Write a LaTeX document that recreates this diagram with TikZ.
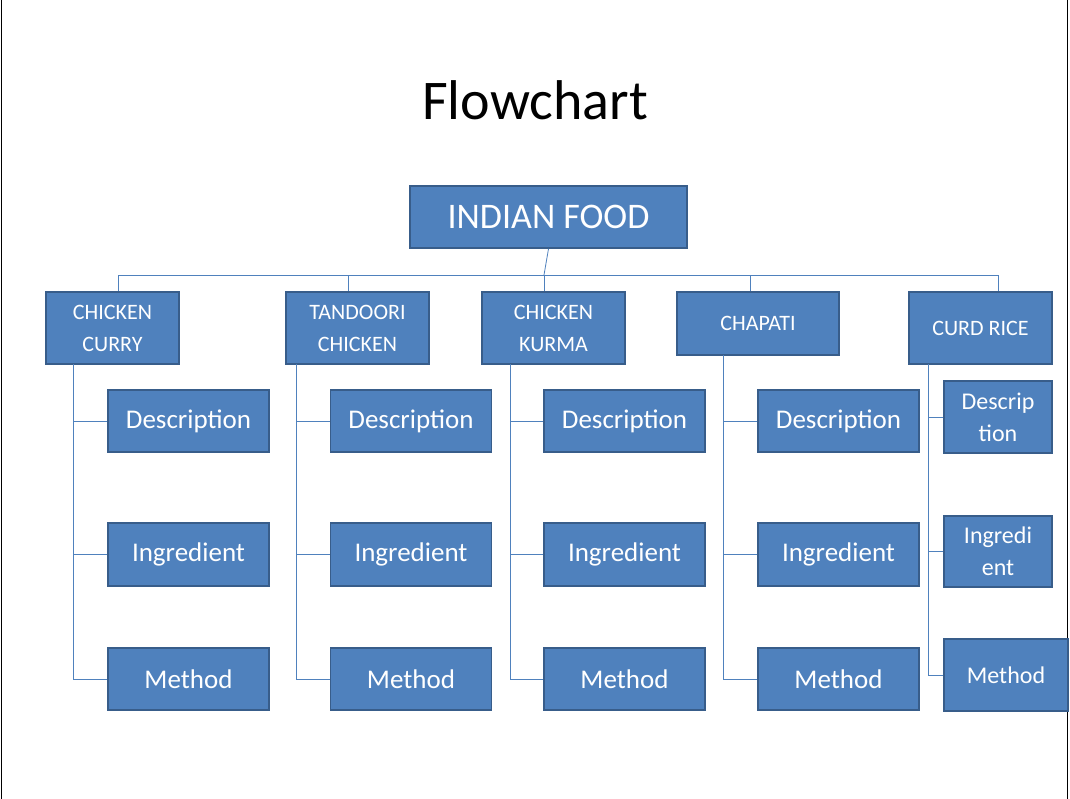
\documentclass[tikz,border=0pt]{standalone}
\usepackage{fontspec}
\setmainfont{Carlito}
\definecolor{boxfill}{HTML}{4F81BD}
\definecolor{boxline}{HTML}{385D8A}
\begin{document}
\begin{tikzpicture}[x=1pt,y=-1pt,
  box/.style={fill=boxfill,draw=boxline,line width=1.6pt,text=white,inner sep=0pt,align=center},
  lone/.style={box,font=\fontsize{22}{32}\selectfont},
  ltwo/.style={box,font=\fontsize{27}{32}\selectfont},
  conn/.style={draw=boxfill,line width=0.8pt}]
\useasboundingbox (0,0) rectangle (1070,799);
\fill[white] (0,0) rectangle (1070,799);
\draw[line width=1pt] (1,0) -- (1,799);
\draw[line width=1pt] (1067,0) -- (1067,799);
\node (title) at (535,100) {\fontsize{56}{60}\selectfont Flowchart};
\node[box,minimum width=277pt,minimum height=62pt,font=\fontsize{36}{40}\selectfont] (root) at (548.5,217) {INDIAN FOOD};
\coordinate (bus) at (544,275);
\node[lone,minimum width=133pt,minimum height=72pt] (cc) at (112.5,328) {CHICKEN\\CURRY};
\node[lone,minimum width=143pt,minimum height=72pt] (tc) at (357.5,328) {TANDOORI\\CHICKEN};
\node[lone,minimum width=143pt,minimum height=72pt] (ck) at (553.5,328) {CHICKEN\\KURMA};
\node[lone,minimum width=162pt,minimum height=63pt] (ch) at (758,323.5) {CHAPATI};
\node[lone,minimum width=143pt,minimum height=72pt] (cr) at (980.5,328) {CURD RICE};
\draw[conn] (root.south) -- (bus);
\draw[conn] (cc.north -| 118,0) -- (118,275) -- (998,275) -- (cr.north -| 998,0);
\draw[conn] (tc.north -| 348,0) -- (348,275);
\draw[conn] (ck.north -| 544,0) -- (bus);
\draw[conn] (ch.north -| 750,0) -- (750,275);
% children
\foreach \p/\cx/\vx/\top in {cc/188.5/73/364, tc/411/296/364, ck/624.5/510/364, ch/838.5/723/355}{
  \node[ltwo,minimum width=161pt,minimum height=62pt] (\p d) at (\cx,421) {Description};
  \node[ltwo,minimum width=161pt,minimum height=63pt] (\p i) at (\cx,554.5) {Ingredient};
  \node[ltwo,minimum width=161pt,minimum height=62pt] (\p m) at (\cx,679) {Method};
  \coordinate (\p v) at (\vx,\top);
  \draw[conn] (\p v) |- (\p m.west);
  \draw[conn] (\p v |- \p d.west) -- (\p d.west);
  \draw[conn] (\p v |- \p i.west) -- (\p i.west);
}
\node[box,minimum width=108pt,minimum height=72pt,font=\fontsize{24}{32}\selectfont] (crd) at (998,417) {Descrip\\tion};
\node[box,minimum width=108pt,minimum height=71pt,font=\fontsize{24}{32}\selectfont] (cri) at (998,551.5) {Ingredi\\ent};
\node[box,minimum width=124pt,minimum height=72pt,font=\fontsize{24}{32}\selectfont] (crm) at (1006,675) {Method};
\coordinate (crv) at (928,364);
\draw[conn] (crv) |- (crm.west);
\draw[conn] (crv |- crd.west) -- (crd.west);
\draw[conn] (crv |- cri.west) -- (cri.west);
\end{tikzpicture}
\end{document}
